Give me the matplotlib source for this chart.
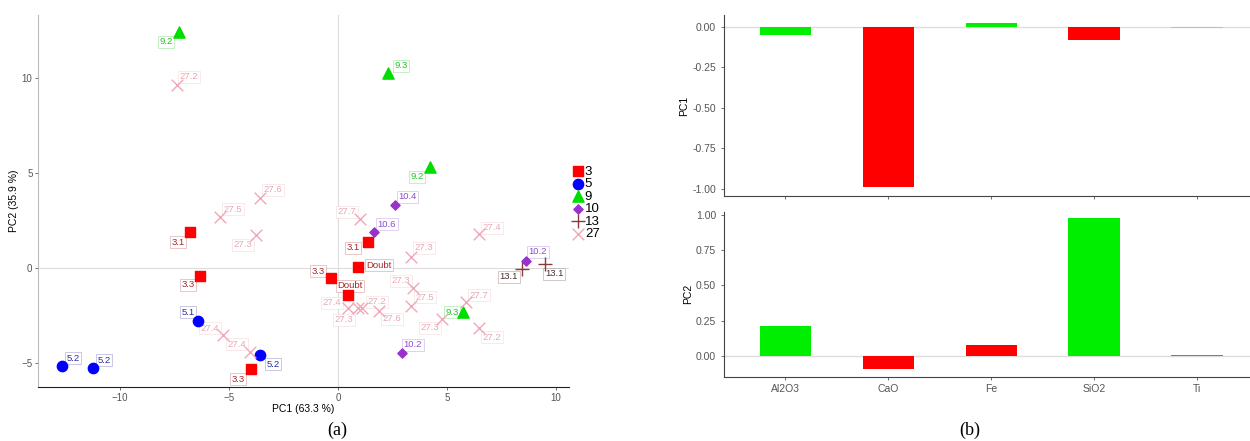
import matplotlib
matplotlib.use("Agg")
import matplotlib.pyplot as plt

plt.rcParams['font.family'] = ['Liberation Sans', 'DejaVu Sans']

# ---- PCA scores (panel a) ----
g3_x = [-6.79, -6.33, -3.99, -0.32, 0.92, 0.46, 1.38]
g3_y = [1.89, -0.42, -5.32, -0.53, 0.05, -1.42, 1.37]
g3_lab = ['3.1', '3.3', '3.3', '3.3', 'Doubt', 'Doubt', '3.1']

g5_x = [-12.66, -11.24, -6.42, -3.58]
g5_y = [-5.16, -5.26, -2.79, -4.58]
g5_lab = ['5.2', '5.2', '5.1', '5.2']

g9_x = [-7.29, 2.29, 4.22, 5.73]
g9_y = [12.42, 10.26, 5.32, -2.32]
g9_lab = ['9.2', '9.3', '9.2', '9.3']

g10_x = [2.61, 1.65, 8.62, 2.94]
g10_y = [3.32, 1.89, 0.37, -4.47]
g10_lab = ['10.4', '10.6', '10.2', '10.2']

g13_x = [8.44, 9.5]
g13_y = [-0.05, 0.21]
g13_lab = ['13.1', '13.1']

g27_x = [-7.39, -3.58, -5.41, -3.76, 1.01, 6.47, 3.35, 3.44, 3.35,
         0.46, 0.92, 1.10, 1.88, 5.87, 4.77, 6.47, -5.28, -4.04]
g27_y = [9.63, 3.68, 2.68, 1.74, 2.58, 1.79, 0.58, -1.05, -2.00,
         -2.10, -2.10, -2.10, -2.26, -1.79, -2.68, -3.16, -3.53, -4.42]
g27_lab = ['27.2', '27.6', '27.5', '27.3', '27.7', '27.4', '27.3', '27.3', '27.5',
           '27.4', '27.3', '27.2', '27.6', '27.7', '27.3', '27.2', '27.4', '27.4']

# label offsets in pixels (layout only)
g3_off = [(-12, -10), (-12, -9), (-13, -10), (-13, 7), (21, 2), (2, 9), (-15, -6)]
g5_off = [(11, 8), (11, 8), (-10, 9), (13, -9)]
g9_off = [(-13, -10), (13, 7), (-13, -10), (-11, 0)]
g10_off = [(13, 8), (13, 8), (12, 9), (11, 8)]
g13_off = [(-13, -8), (9, -10)]
g27_off = [(12, 8), (13, 8), (13, 8), (-13, -10), (-13, 7), (13, 6), (13, 9), (-12, 7), (14, 9),
           (-16, 5), (-14, -12), (15, 6), (13, -8), (13, 7), (-12, -9), (13, -9), (-13, 7), (-13, 8)]

# ---- loadings (panel b) ----
elements = ['Al2O3', 'CaO', 'Fe', 'SiO2', 'Ti']
pc1 = [-0.052, -0.99, 0.02, -0.082, -0.007]
pc2 = [0.215, -0.094, 0.076, 0.976, 0.01]
pc1_colors = ['#00EE00', '#FF0000', '#00EE00', '#FF0000', '#E4B0B0']
pc2_colors = ['#00EE00', '#FF0000', '#FF0000', '#00EE00', '#C06060']

fig = plt.figure(figsize=(12.5, 4.41), dpi=100)

ax = fig.add_axes([0.0304, 0.1224, 0.4248, 0.8435])
ax.axhline(0, color='#DDDDDD', lw=0.8, zorder=0)
ax.axvline(0, color='#DDDDDD', lw=0.8, zorder=0)

groups = [
    (g3_x, g3_y, g3_lab, g3_off, '3', 's', '#FF0000', '#A52A2A', 45),
    (g5_x, g5_y, g5_lab, g5_off, '5', 'o', '#0000FF', '#2E2E9E', 55),
    (g9_x, g9_y, g9_lab, g9_off, '9', '^', '#00DD00', '#22C422', 65),
    (g10_x, g10_y, g10_lab, g10_off, '10', 'D', '#9932CC', '#8A4FCF', 22),
    (g13_x, g13_y, g13_lab, g13_off, '13', '+', '#8B3A3A', '#4A3030', 90),
    (g27_x, g27_y, g27_lab, g27_off, '27', 'x', '#F0A8B8', '#E6A9B4', 70),
]
for xs, ys, labs, offs, name, mk, col, tcol, size in groups:
    ax.scatter(xs, ys, marker=mk, s=size, c=col, label=name, linewidths=1.0, zorder=3)
    for x, y, t, (dx, dy) in zip(xs, ys, labs, offs):
        ax.annotate(t, (x, y), xytext=(dx, dy), textcoords='offset pixels',
                    ha='center', va='center', fontsize=6.8, color=tcol,
                    bbox=dict(boxstyle='square,pad=0.15', fc='white',
                              ec=matplotlib.colors.to_rgba(tcol, 0.3), lw=0.6),
                    zorder=2)

ax.set_xlim(-13.76, 10.6)
ax.set_ylim(-6.26, 13.3)
ax.set_xticks([-10, -5, 0, 5, 10])
ax.set_yticks([-5, 0, 5, 10])
for s in ['top', 'right']:
    ax.spines[s].set_visible(False)
ax.spines['left'].set_color('#BBBBBB')
ax.spines['bottom'].set_color('#222222')
ax.tick_params(labelsize=7, colors='#555555', length=2, width=0.6, pad=2)
ax.set_xlabel('PC1 (63.3 %)', fontsize=7.5, labelpad=1)
ax.set_ylabel('PC2 (35.9 %)', fontsize=7.5, labelpad=2)

leg = ax.legend(loc='upper left', bbox_to_anchor=(1.005, 0.595), frameon=False,
                fontsize=9.5, handletextpad=0.0, labelspacing=0.02,
                handlelength=1.0, borderaxespad=0, borderpad=0)

# ---- bar panels ----
xpos = list(range(1, len(elements) + 1))

axt = fig.add_axes([0.579, 0.5556, 0.428, 0.4104])
axt.axhline(0, color='#DDDDDD', lw=1.0, zorder=0)
axt.bar(xpos, pc1, width=0.5, color=pc1_colors, zorder=2)
axt.set_xlim(0.4, 5.6)
axt.set_ylim(-1.043, 0.072)
axt.set_yticks([0, -0.25, -0.5, -0.75, -1.0])
axt.set_yticklabels(['0.00', '-0.25', '-0.50', '-0.75', '-1.00'])
axt.set_xticks(xpos)
axt.set_xticklabels([])
axt.set_ylabel('PC1', fontsize=7.5, labelpad=2)

axb = fig.add_axes([0.579, 0.1458, 0.428, 0.3742])
axb.axhline(0, color='#DDDDDD', lw=1.0, zorder=0)
axb.bar(xpos, pc2, width=0.5, color=pc2_colors, zorder=2)
axb.set_xlim(0.4, 5.6)
axb.set_ylim(-0.147, 1.023)
axb.set_yticks([0, 0.25, 0.5, 0.75, 1.0])
axb.set_yticklabels(['0.00', '0.25', '0.50', '0.75', '1.00'])
axb.set_xticks(xpos)
axb.set_xticklabels(elements)
axb.set_ylabel('PC2', fontsize=7.5, labelpad=2)

for a in (axt, axb):
    for s in ['top', 'right']:
        a.spines[s].set_visible(False)
    a.spines['left'].set_color('#444444')
    a.spines['bottom'].set_color('#444444')
    a.tick_params(labelsize=7.5, colors='#555555', length=2, width=0.6)

fig.text(0.27, 0.024, '(a)', ha='center', va='center', fontsize=13,
         family=['Liberation Serif', 'DejaVu Serif'])
fig.text(0.776, 0.024, '(b)', ha='center', va='center', fontsize=13,
         family=['Liberation Serif', 'DejaVu Serif'])

fig.savefig('out.png', dpi=100)
